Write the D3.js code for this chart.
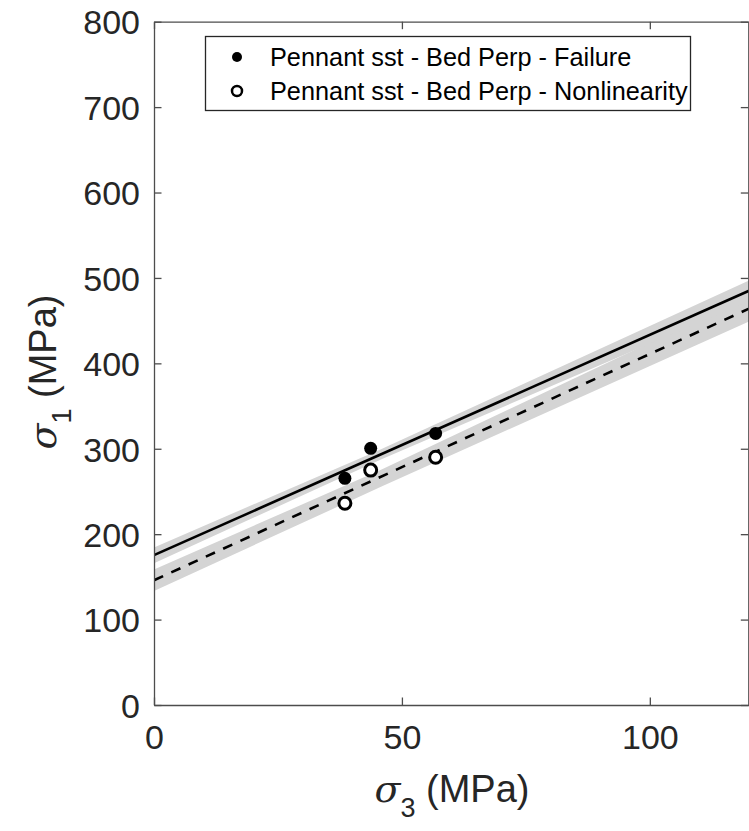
<!DOCTYPE html>
<html>
<head>
<meta charset="utf-8">
<script src="https://cdn.jsdelivr.net/npm/d3@7"></script>
<style>
  html, body { margin: 0; padding: 0; background: #fff; }
  svg { display: block; }
  text { font-family: "Liberation Sans", Arial, Helvetica, sans-serif; }
</style>
</head>
<body>
<svg id="chart" width="749" height="831"></svg>
<script>
// Triaxial test data: confining stress sigma3 vs. peak stress sigma1 (MPa)
const sigma3 = [38.5, 43.7, 56.8];
const failureSigma1 = [265.4, 300.5, 318.0];
const nonlinSigma1 = [236.2, 275.0, 290.0];

// Linear fit end points (sigma3 = 0 and 120 MPa)
const fitSigma3 = [0, 120];
const failureFit = [175.4, 485.0];
const nonlinFit = [146.0, 464.0];

// Confidence envelopes around each fit
const bandSigma3 = [0, 46, 120];
const failureLower = [166.0, 288.0, 473.0];
const failureUpper = [184.5, 300.0, 497.0];
const nonlinLower = [133.5, 256.0, 449.0];
const nonlinUpper = [158.5, 276.0, 479.0];

const xTicks = [0, 50, 100];
const yTicks = [0, 100, 200, 300, 400, 500, 600, 700, 800];
const legendLabels = [
  "Pennant sst - Bed Perp - Failure",
  "Pennant sst - Bed Perp - Nonlinearity"
];

const svg = d3.select("#chart");
const mLeft = 154, mRight = 749, mTop = 21.7, mBottom = 705;
const x = d3.scaleLinear().domain([0, 120]).range([mLeft, mRight]);
const y = d3.scaleLinear().domain([0, 800]).range([mBottom, mTop]);

const axisColor = "#4d4d4d";
const textColor = "#262626";

svg.append("defs").append("clipPath").attr("id", "plotClip")
  .append("rect").attr("x", mLeft).attr("y", mTop)
  .attr("width", mRight - mLeft).attr("height", mBottom - mTop);

const plot = svg.append("g").attr("clip-path", "url(#plotClip)");

// Grey confidence bands
const bandArea = (lo, hi) => d3.area()
  .x((d, i) => x(bandSigma3[i]))
  .y0((d, i) => y(lo[i]))
  .y1((d, i) => y(hi[i]));

plot.append("path").datum(bandSigma3)
  .attr("d", bandArea(nonlinLower, nonlinUpper))
  .attr("fill", "#d4d4d4");
plot.append("path").datum(bandSigma3)
  .attr("d", bandArea(failureLower, failureUpper))
  .attr("fill", "#d4d4d4");

// Fit lines
const fitLine = vals => d3.line()
  .x((d, i) => x(fitSigma3[i]))
  .y((d, i) => y(vals[i]));

plot.append("path").datum(fitSigma3)
  .attr("d", fitLine(nonlinFit))
  .attr("fill", "none").attr("stroke", "#000")
  .attr("stroke-width", 2.6).attr("stroke-dasharray", "10,9");
plot.append("path").datum(fitSigma3)
  .attr("d", fitLine(failureFit))
  .attr("fill", "none").attr("stroke", "#000")
  .attr("stroke-width", 2.6);

// Data points
plot.selectAll("circle.nonlin").data(sigma3).enter().append("circle")
  .attr("class", "nonlin")
  .attr("cx", d => x(d)).attr("cy", (d, i) => y(nonlinSigma1[i]))
  .attr("r", 6).attr("fill", "#fff")
  .attr("stroke", "#000").attr("stroke-width", 3);
plot.selectAll("circle.failure").data(sigma3).enter().append("circle")
  .attr("class", "failure")
  .attr("cx", d => x(d)).attr("cy", (d, i) => y(failureSigma1[i]))
  .attr("r", 6.5).attr("fill", "#000");

// Axes with inward ticks
const tickLen = 7.5;
const styleAxis = g => {
  g.select(".domain").attr("stroke", axisColor).attr("stroke-width", 1.3);
  g.selectAll(".tick line").attr("stroke", axisColor).attr("stroke-width", 1.3);
  g.selectAll(".tick text").attr("fill", textColor)
    .style("font-family", "'Liberation Sans', Arial, sans-serif")
    .style("font-size", "34px");
};

svg.append("g").attr("transform", `translate(${mLeft},0)`)
  .call(d3.axisLeft(y).tickValues(yTicks).tickSizeInner(-tickLen).tickSizeOuter(0).tickPadding(14))
  .call(styleAxis)
  .call(g => g.selectAll(".tick text").attr("dy", "0.36em"));

svg.append("g").attr("transform", `translate(0,${mBottom})`)
  .call(d3.axisBottom(x).tickValues(xTicks).tickSizeInner(-tickLen).tickSizeOuter(0).tickPadding(20))
  .call(styleAxis)
  .call(g => g.selectAll(".tick text").attr("dy", "0.71em"));

svg.append("g").attr("transform", `translate(0,${mTop})`)
  .call(d3.axisTop(x).tickValues(xTicks).tickSizeInner(-tickLen).tickSizeOuter(0).tickFormat(""))
  .call(styleAxis);

svg.append("g").attr("transform", `translate(${mRight - 0.7},0)`)
  .call(d3.axisRight(y).tickValues(yTicks).tickSizeInner(-tickLen).tickSizeOuter(0).tickFormat(""))
  .call(styleAxis);

// Axis titles
const xTitle = svg.append("text")
  .attr("x", 452).attr("y", 802)
  .attr("text-anchor", "middle").attr("fill", textColor)
  .style("font-size", "38px");
xTitle.append("tspan").style("font-family", "'DejaVu Serif', serif").style("font-style", "italic").text("σ");
xTitle.append("tspan").attr("dy", 15).style("font-size", "27px").text("3");
xTitle.append("tspan").attr("dy", -15).text(" (MPa)");

const yTitle = svg.append("text")
  .attr("transform", `translate(56,372) rotate(-90)`)
  .attr("text-anchor", "middle").attr("fill", textColor)
  .style("font-size", "38px");
yTitle.append("tspan").style("font-family", "'DejaVu Serif', serif").style("font-style", "italic").text("σ");
yTitle.append("tspan").attr("dy", 15).style("font-size", "27px").text("1");
yTitle.append("tspan").attr("dy", -15).text(" (MPa)");

// Legend
const legend = svg.append("g");
legend.append("rect")
  .attr("x", 205.5).attr("y", 36.5).attr("width", 485).attr("height", 74)
  .attr("fill", "#fff").attr("stroke", "#262626").attr("stroke-width", 1.3);
const rowY = [57, 91];
legend.append("circle").attr("cx", 237).attr("cy", rowY[0]).attr("r", 5).attr("fill", "#000");
legend.append("circle").attr("cx", 237).attr("cy", rowY[1]).attr("r", 5)
  .attr("fill", "#fff").attr("stroke", "#000").attr("stroke-width", 2.5);
legend.selectAll("text.lg").data(legendLabels).enter().append("text")
  .attr("class", "lg")
  .attr("x", 270).attr("y", (d, i) => rowY[i]).attr("dy", "0.36em")
  .attr("fill", "#000").style("font-size", "25.3px")
  .text(d => d);
</script>
</body>
</html>
